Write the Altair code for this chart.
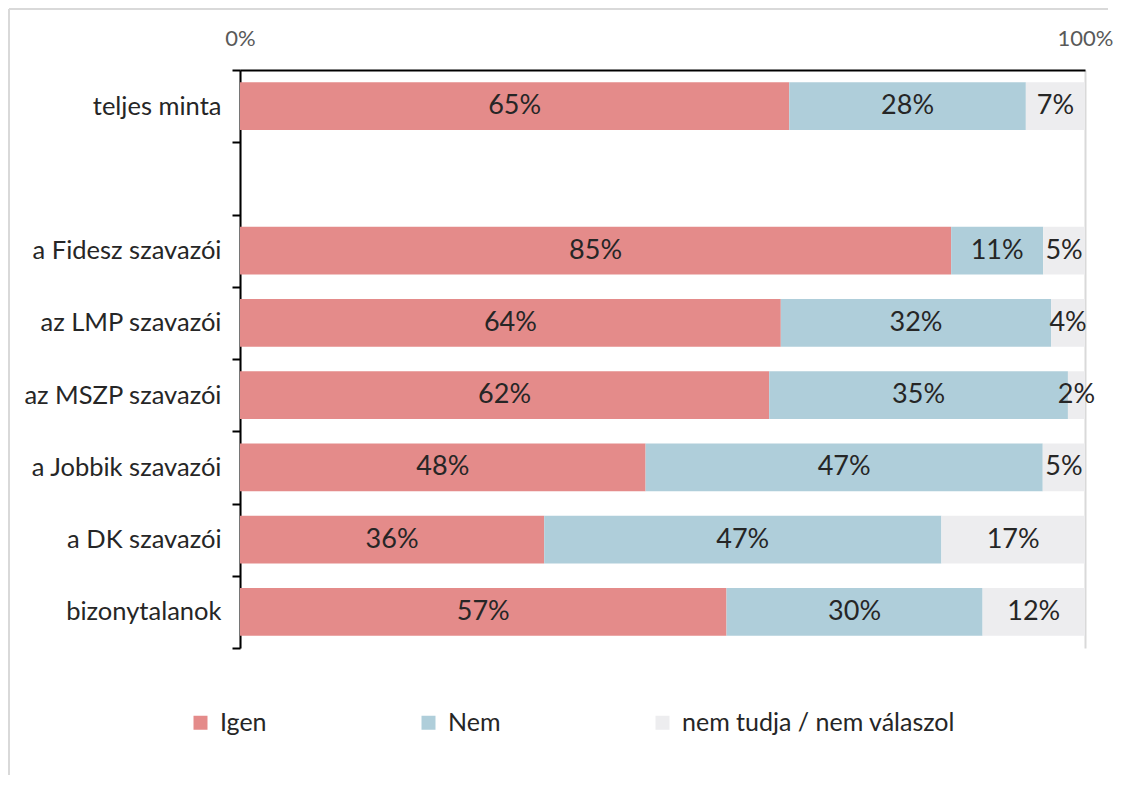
import altair as alt
import pandas as pd

categories = ["teljes minta", " ", "a Fidesz szavazói", "az LMP szavazói",
              "az MSZP szavazói", "a Jobbik szavazói", "a DK szavazói", "bizonytalanok"]
data_cats = ["teljes minta", "a Fidesz szavazói", "az LMP szavazói",
             "az MSZP szavazói", "a Jobbik szavazói", "a DK szavazói", "bizonytalanok"]
igen = [65, 85, 64, 62, 48, 36, 57]
nem = [28, 11, 32, 35, 47, 47, 30]
nt = [7, 5, 4, 2, 5, 17, 12]
series = ["Igen", "Nem", "nem tudja / nem válaszol"]
colors = ["#E48B8A", "#AFCEDA", "#EDEDEF"]

rows = []
for i, c in enumerate(data_cats):
    for k, (s, v) in enumerate(zip(series, [igen[i], nem[i], nt[i]])):
        rows.append({"cat": c, "series": s, "ord": k, "value": v, "label": f"{v}%"})
df = pd.DataFrame(rows)

FONT = "Lato"

base = alt.Chart(df).transform_stack(
    stack="value", as_=["x0", "x1"], groupby=["cat"],
    sort=[alt.SortField("ord", order="ascending")], offset="normalize"
).transform_calculate(mid="(datum.x0 + datum.x1) / 2")

yscale = alt.Scale(domain=categories, paddingInner=0, paddingOuter=0)
yaxis = alt.Axis(orient="left", title=None, domainColor="#000000", domainWidth=2,
                 tickColor="#000000", tickWidth=2, tickSize=8, tickBand="extent",
                 labelPadding=11, labelFontSize=25.5, labelFont=FONT, labelLimit=400,
                 labelColor="#262626", grid=False)
xscale = alt.Scale(domain=[0, 1], nice=False, zero=True)
xaxis = alt.Axis(orient="top", title=None, values=[0, 1], format="%",
                 labelColor="#595959", labelFontSize=22, labelFont=FONT, labelFlush=False,
                 ticks=False, domainColor="#000000", domainWidth=2,
                 grid=True, gridColor="#D9D9D9", gridWidth=2, labelPadding=20)

bars = base.mark_bar(height={"band": 0.66}).encode(
    x=alt.X("x0:Q", scale=xscale, axis=xaxis),
    x2="x1:Q",
    y=alt.Y("cat:N", scale=yscale, axis=yaxis),
    color=alt.Color("series:N", scale=alt.Scale(domain=series, range=colors),
                    legend=alt.Legend(title=None, orient="none", legendX=-52, legendY=640,
                                      direction="horizontal", symbolType="square",
                                      symbolSize=196, symbolStrokeWidth=0,
                                      labelFontSize=25, labelFont=FONT, labelColor="#262626",
                                      labelOffset=7, columnPadding=149, padding=0,
                                      labelLimit=400)),
    order=alt.Order("ord:Q"),
)

labels = base.mark_text(font=FONT, fontSize=27, color="#262626", baseline="middle",
                        align="center").encode(
    x=alt.X("mid:Q", scale=xscale, axis=xaxis),
    y=alt.Y("cat:N", scale=yscale, axis=yaxis),
    text="label:N",
)

frame_top = alt.Chart(df).mark_rule(color="#D9D9D9", strokeWidth=2).encode(
    x=alt.value(-231), x2=alt.value(868), y=alt.value(-61))
frame_left = alt.Chart(df).mark_rule(color="#D9D9D9", strokeWidth=2).encode(
    x=alt.value(-231), y=alt.value(-61), y2=alt.value(705))

chart = alt.layer(frame_top, frame_left, bars, labels).properties(
    width=845, height=578,
    padding={"left": 0, "top": 0, "right": 5, "bottom": 5},
).configure_view(stroke=None)

chart.save("out.html", embed_options={"renderer": "svg", "actions": False})
